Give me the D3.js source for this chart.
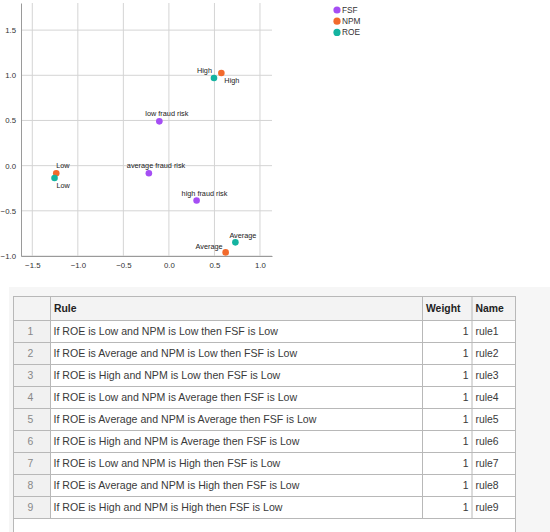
<!DOCTYPE html>
<html>
<head>
<meta charset="utf-8">
<script src="https://cdn.jsdelivr.net/npm/d3@7"></script>
<style>
    body { margin: 0; background: #fff; }
    svg { display: block; font-family: "Liberation Sans", Arial, sans-serif; }
</style>
</head>
<body>
<svg id="chart" width="550" height="532"></svg>
<script>
// scatter data
const seriesNames = ["FSF", "NPM", "ROE"];
const seriesColours = ["#a54ef4", "#f26a2c", "#14b3a0"];
const pointSeries = ["FSF", "FSF", "FSF", "NPM", "NPM", "NPM", "ROE", "ROE", "ROE"];
const pointLabels = ["low fraud risk", "average fraud risk", "high fraud risk",
    "Low", "Average", "High", "Low", "Average", "High"];
const pointX = [-0.105, -0.22, 0.304, -1.237, 0.623, 0.576, -1.256, 0.73, 0.495];
const pointY = [0.49, -0.084, -0.386, -0.084, -0.96, 1.025, -0.136, -0.849, 0.97];
const xTicks = [-1.5, -1.0, -0.5, 0.0, 0.5, 1.0];
const yTicks = [-1.0, -0.5, 0.0, 0.5, 1.0, 1.5];

// rule table data
const tableHeaders = ["", "Rule", "Weight", "Name"];
const ruleTexts = [
    "If ROE is Low and NPM is Low then FSF is Low",
    "If ROE is Average and NPM is Low then FSF is Low",
    "If ROE is High and NPM is Low then FSF is Low",
    "If ROE is Low and NPM is Average then FSF is Low",
    "If ROE is Average and NPM is Average then FSF is Low",
    "If ROE is High and NPM is Average then FSF is Low",
    "If ROE is Low and NPM is High then FSF is Low",
    "If ROE is Average and NPM is High then FSF is Low",
    "If ROE is High and NPM is High then FSF is Low"
];
const ruleWeights = [1, 1, 1, 1, 1, 1, 1, 1, 1];
const ruleNames = ["rule1", "rule2", "rule3", "rule4", "rule5", "rule6", "rule7", "rule8", "rule9"];

// where each point label sits relative to its dot
const labelPlacement = [
    {anchor: "start", dx: -14, dy: -5},
    {anchor: "start", dx: -22, dy: -5},
    {anchor: "start", dx: -15, dy: -5},
    {anchor: "start", dx: 0, dy: -5},
    {anchor: "end", dx: -3, dy: -3},
    {anchor: "start", dx: 3, dy: 10},
    {anchor: "start", dx: 2, dy: 10},
    {anchor: "start", dx: -6, dy: -4},
    {anchor: "end", dx: -2, dy: -5}
];

const svg = d3.select("#chart");

const colour = d3.scaleOrdinal().domain(seriesNames).range(seriesColours);

const plot = {left: 21, right: 272, top: 3, bottom: 256};

const x = d3.scaleLinear().domain([-1.624, 1.132]).range([plot.left, plot.right]);
const y = d3.scaleLinear().domain([-1.0, 1.8]).range([plot.bottom, plot.top]);

const chartGroup = svg.append("g").attr("id", "scatter-group");

// grid
chartGroup.selectAll(".grid-x")
    .data(xTicks)
    .join("line")
        .attr("class", "grid-x")
        .attr("x1", d => x(d)).attr("x2", d => x(d))
        .attr("y1", plot.top).attr("y2", plot.bottom)
        .attr("stroke", "#d4d4d4").attr("stroke-width", 1);

chartGroup.selectAll(".grid-y")
    .data(yTicks)
    .join("line")
        .attr("class", "grid-y")
        .attr("x1", plot.left).attr("x2", plot.right)
        .attr("y1", d => y(d)).attr("y2", d => y(d))
        .attr("stroke", "#d4d4d4").attr("stroke-width", 1);

// axes
const xAxis = d3.axisBottom(x).tickValues(xTicks).tickFormat(d3.format(".1f")).tickSize(0).tickPadding(6);
const yAxis = d3.axisLeft(y).tickValues(yTicks).tickFormat(d3.format(".1f")).tickSize(0).tickPadding(5);

chartGroup.append("g")
    .attr("transform", `translate(0, ${plot.bottom})`)
    .call(xAxis)
    .call(g => g.select(".domain").attr("stroke", "#9a9a9a"))
    .call(g => g.selectAll("text").attr("font-size", 7.8).attr("fill", "#333")
        .attr("font-family", "Liberation Sans, Arial, sans-serif"));

chartGroup.append("g")
    .attr("transform", `translate(${plot.left}, 0)`)
    .call(yAxis)
    .call(g => g.select(".domain").attr("stroke", "#9a9a9a"))
    .call(g => g.selectAll("text").attr("font-size", 7.8).attr("fill", "#333")
        .attr("font-family", "Liberation Sans, Arial, sans-serif"));

const points = pointX.map((px, i) => ({
    x: px, y: pointY[i], series: pointSeries[i], label: pointLabels[i], place: labelPlacement[i]
}));

chartGroup.selectAll(".point")
    .data(points)
    .join("circle")
        .attr("class", "point")
        .attr("cx", d => x(d.x))
        .attr("cy", d => y(d.y))
        .attr("r", 3.3)
        .attr("fill", d => colour(d.series));

chartGroup.selectAll(".point-label")
    .data(points)
    .join("text")
        .attr("class", "point-label")
        .attr("x", d => x(d.x) + d.place.dx)
        .attr("y", d => y(d.y) + d.place.dy)
        .attr("text-anchor", d => d.place.anchor)
        .attr("font-size", 7.3)
        .attr("fill", "#222")
        .text(d => d.label);

// legend
const legend = svg.append("g").attr("transform", "translate(337, 10)");
legend.selectAll("g")
    .data(seriesNames)
    .join("g")
        .attr("transform", (d, i) => `translate(0, ${i * 11.2})`)
        .call(g => g.append("circle").attr("r", 3.6).attr("fill", d => colour(d)))
        .call(g => g.append("text").attr("x", 5).attr("y", 3).attr("font-size", 8.3)
            .attr("fill", "#333").text(d => d));

// table
const tableGroup = svg.append("g").attr("id", "table-group");

tableGroup.append("rect")
    .attr("x", 9).attr("y", 287).attr("width", 541).attr("height", 245)
    .attr("fill", "#f6f6f6");

const colEdges = [13, 50, 422, 471.5, 515];
const headerTop = 296;
const headerBottom = 320;
const rowScale = d3.scaleBand()
    .domain(d3.range(ruleTexts.length))
    .range([headerBottom, headerBottom + 22 * ruleTexts.length]);
const tableBottom = 532;

// body background
tableGroup.append("rect")
    .attr("x", colEdges[0]).attr("y", headerTop)
    .attr("width", colEdges[4] - colEdges[0]).attr("height", tableBottom - headerTop)
    .attr("fill", "#fff");

tableGroup.append("rect")
    .attr("x", colEdges[0]).attr("y", headerTop)
    .attr("width", colEdges[4] - colEdges[0]).attr("height", headerBottom - headerTop)
    .attr("fill", "#f3f3f3");

tableGroup.selectAll(".index-cell")
    .data(d3.range(ruleTexts.length))
    .join("rect")
        .attr("class", "index-cell")
        .attr("x", colEdges[0]).attr("y", d => rowScale(d))
        .attr("width", colEdges[1] - colEdges[0]).attr("height", rowScale.bandwidth())
        .attr("fill", "#f1f1f1");

// horizontal lines
const hLines = [headerTop, headerBottom].concat(d3.range(ruleTexts.length).map(i => rowScale(i) + rowScale.bandwidth()));
tableGroup.selectAll(".h-line")
    .data(hLines)
    .join("line")
        .attr("class", "h-line")
        .attr("x1", colEdges[0]).attr("x2", colEdges[4])
        .attr("y1", d => d + 0.5).attr("y2", d => d + 0.5)
        .attr("stroke", "#b8b8b8");

// vertical lines
tableGroup.selectAll(".v-line")
    .data(colEdges)
    .join("line")
        .attr("class", "v-line")
        .attr("x1", d => d + 0.5).attr("x2", d => d + 0.5)
        .attr("y1", headerTop)
        .attr("y2", (d, i) => (i === 0 || i === 4) ? tableBottom : rowScale(ruleTexts.length - 1) + rowScale.bandwidth())
        .attr("stroke", "#b8b8b8");

// header text
const headerY = (headerTop + headerBottom) / 2 + 3.7;
tableGroup.selectAll(".header-text")
    .data(tableHeaders)
    .join("text")
        .attr("class", "header-text")
        .attr("x", (d, i) => colEdges[i] + 4)
        .attr("y", headerY)
        .attr("font-size", 10.4)
        .attr("font-weight", "bold")
        .attr("fill", "#222")
        .text(d => d);

const rows = ruleTexts.map((t, i) => ({index: i, text: t, weight: ruleWeights[i], name: ruleNames[i]}));

const rowGroups = tableGroup.selectAll(".row")
    .data(rows)
    .join("g")
        .attr("class", "row")
        .attr("transform", d => `translate(0, ${rowScale(d.index) + rowScale.bandwidth() / 2 + 3.7})`);

rowGroups.append("text")
    .attr("x", (colEdges[0] + colEdges[1]) / 2 - 1)
    .attr("text-anchor", "middle")
    .attr("font-size", 10.4).attr("fill", "#888")
    .text(d => d.index + 1);

rowGroups.append("text")
    .attr("x", colEdges[1] + 3.5)
    .attr("font-size", 10.6).attr("fill", "#3a3a3a")
    .text(d => d.text);

rowGroups.append("text")
    .attr("x", colEdges[3] - 3)
    .attr("text-anchor", "end")
    .attr("font-size", 10.4).attr("fill", "#3a3a3a")
    .text(d => d.weight);

rowGroups.append("text")
    .attr("x", colEdges[3] + 4)
    .attr("font-size", 10.4).attr("fill", "#3a3a3a")
    .text(d => d.name);
</script>
</body>
</html>
